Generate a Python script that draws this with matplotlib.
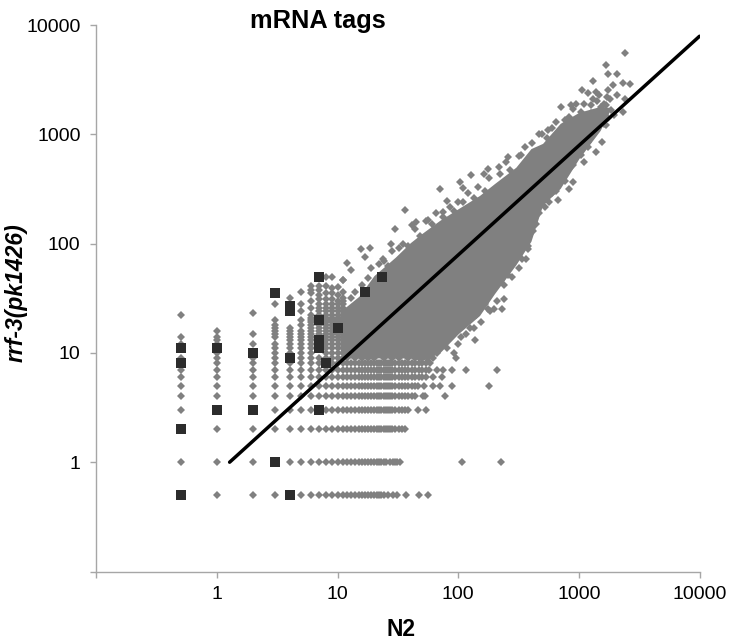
import matplotlib
matplotlib.use("Agg")
import matplotlib.pyplot as plt
from matplotlib.ticker import FixedLocator, FixedFormatter, NullLocator

plt.rcParams['font.family'] = ['Liberation Sans', 'DejaVu Sans']

title = "mRNA tags"
xlabel = "N2"
ylabel = "rrf-3(pk1426)"
tick_values = [0.1, 1, 10, 100, 1000, 10000]
tick_labels = ["", "1", "10", "100", "1000", "10000"]

# horizontal rows of low counts in rrf-3
row_levels = [0.5, 1, 2, 3, 4, 5, 6, 7, 8, 9, 10]
row_xs = [
    [1, 2, 3, 5, 6, 7, 8, 9, 10, 11, 12, 13, 14, 15, 16, 17, 18, 19, 20, 21, 22, 23, 24, 26, 29, 31, 37, 47, 56],
    [0.5, 1, 2, 4, 5, 6, 7, 8, 9, 10, 11, 12, 13, 14, 15, 16, 17, 18, 19, 20, 21, 22, 23, 24, 25, 27, 29, 30, 31, 33, 108, 226],
    [1, 2, 3, 4, 5, 6, 7, 8, 9, 10, 11, 12, 13, 14, 15, 16, 17, 18, 19, 20, 21, 22, 23, 24, 25, 26, 27, 28, 30, 32, 34, 36],
    [0.5, 3, 4, 5, 6, 8, 9, 10, 11, 12, 13, 14, 15, 16, 17, 18, 19, 20, 21, 22, 23, 24, 25, 26, 27, 28, 30, 32, 34, 36, 38, 46, 54],
    [0.5, 1, 2, 3, 4, 5, 6, 7, 8, 9, 10, 11, 12, 13, 14, 15, 16, 17, 18, 19, 20, 21, 22, 23, 24, 25, 26, 27, 28, 30, 32, 34, 36, 38, 41, 44, 51, 53, 78],
    [0.5, 1, 2, 3, 4, 5, 6, 7, 8, 9, 10, 11, 12, 13, 14, 15, 16, 17, 18, 19, 20, 21, 22, 23, 24, 25, 26, 27, 28, 30, 32, 34, 36, 38, 41, 44, 46, 52, 62, 70, 88, 178],
    [0.5, 1, 2, 3, 4, 5, 6, 7, 8, 9, 10, 11, 12, 13, 14, 15, 16, 17, 18, 19, 20, 21, 22, 23, 24, 25, 26, 27, 28, 30, 32, 34, 36, 38, 41, 44, 47, 50, 54, 62, 73],
    [0.5, 1, 2, 3, 4, 5, 6, 7, 8, 9, 10, 11, 12, 13, 14, 15, 16, 17, 18, 19, 20, 21, 22, 23, 24, 25, 26, 27, 28, 30, 32, 34, 36, 38, 41, 44, 47, 50, 54, 57, 67, 75, 88, 116, 208],
    [1, 2, 3, 4, 5, 6, 7, 9, 10, 11, 12, 13, 14, 15, 16, 17, 18, 19, 20, 21, 22, 23, 24, 25, 26, 27, 28, 30, 32, 34, 36, 38, 41, 44, 47, 50, 54, 58],
    [0.5, 1, 2, 3, 5, 6, 7, 8, 9, 10, 11, 12, 14, 16, 18, 20, 24, 28, 32, 38, 44, 50, 56, 62],
    [1, 3, 4, 5, 6, 8, 9, 10, 11, 12, 14, 16, 20, 30, 40, 50, 60, 66],
]

# vertical columns of low counts in N2
column_levels = [0.5, 1, 2, 3, 4, 5, 6, 7, 8, 9, 10, 11]
column_ys = [
    [12, 14, 22],
    [12, 13, 14, 16],
    [12, 15, 23],
    [11, 12, 14, 15, 16, 17, 18, 20, 28],
    [11, 12, 13, 14, 15, 16, 17, 32],
    [11, 12, 13, 14, 15, 16, 18, 20, 24, 28, 36],
    [11, 12, 13, 14, 15, 16, 17, 18, 19, 20, 21, 22, 26, 30, 35, 38, 41],
    [11, 14, 15, 16, 17, 18, 19, 21, 22, 24, 26, 28, 31, 34, 38, 41],
    [11, 12, 13, 14, 15, 16, 17, 18, 19, 20, 21, 22, 24, 26, 28, 31, 35, 41, 50],
    [11, 12, 13, 14, 15, 16, 17, 18, 19, 20, 21, 22, 24, 26, 28, 31, 35, 39, 50],
    [11, 12, 13, 14, 15, 16, 18, 19, 20, 21, 22, 24, 26, 28, 30, 34, 40],
    [11, 12, 13, 14, 15, 16, 17, 18, 19, 20, 21, 22, 24, 26, 28, 30, 32, 36, 46],
]

# edges of the solid cloud
cloud_x = [10.5, 12, 15, 20, 30, 40, 50, 70, 100, 150, 200, 300, 400, 500, 700, 1000, 1500, 1800]
cloud_upper = [24, 27, 33, 51, 75, 102, 124, 163, 209, 276, 355, 500, 740, 826, 1260, 1590, 1800, 1760]
cloud_lower = [10, 9, 9, 9, 9, 9, 8.5, 10, 15, 22, 35, 64, 105, 225, 320, 600, 1085, 1640]

# scattered points around the cloud
edge_x = [2393, 1663, 1754, 2080, 1315, 1914, 2316, 2630, 1052, 1754, 2055, 2410, 2316,
          1180, 1375, 1456, 1300, 1663, 1832, 1514, 1940, 1563, 1375, 1094, 1180, 1663,
          705, 853, 940, 1033, 1250, 1375, 491, 550, 405, 316, 256, 175, 162, 216,
          887, 822, 733, 665, 376, 36, 70, 128, 103, 109, 81, 100, 30, 41, 45,
          15.5, 18.4, 12, 27.5, 23.6, 17, 12.8, 11, 56, 74,
          232, 182, 196, 238, 224, 376, 361, 137, 99, 134, 115, 93, 95]
edge_y = [5540, 4276, 3540, 3590, 3050, 2805, 2942, 2905, 2523, 2523, 2270, 2085, 1585,
          2378, 2426, 2270, 2123, 1840, 1656, 1762, 1489, 848, 687, 556, 759, 1205,
          1762, 1840, 1879, 1585, 1552, 1400, 998, 1086, 826, 628, 615, 477, 430, 497,
          363, 313, 457, 248, 114, 201, 313, 421, 363, 326, 243, 238, 135, 147, 156,
          90, 92, 67, 100, 73, 75, 57, 46, 163, 193,
          25, 24, 25, 31, 46, 90, 73, 13, 12, 17, 15, 10, 9]

# points along the rough upper and lower borders of the cloud
upper_border_x = [13, 14, 16, 18, 19, 22, 24, 26, 28, 32, 35, 38, 44, 48, 54, 60, 65, 75, 85, 92, 110, 120,
                  135, 145, 165, 180, 220, 250, 270, 330, 360, 440, 470, 540, 600, 650, 760, 820, 900, 1100,
                  1250, 1400, 1600, 1700, 1800]
upper_border_y = [32, 36, 42, 48, 60, 65, 70, 62, 85, 92, 100, 95, 135, 118, 160, 150, 190, 175, 215, 200, 240, 290,
                  260, 330, 300, 400, 430, 560, 470, 640, 760, 680, 1000, 930, 1130, 1300, 1350, 1450, 1700, 1900,
                  1850, 2000, 1900, 2200, 2100]
lower_border_x = [70, 80, 85, 105, 110, 125, 140, 155, 165, 175, 210, 190, 240, 260, 280, 320, 340, 380, 420,
                  440, 470, 520, 560, 600, 640, 760, 820, 900, 1050, 1200, 1300, 1600, 1750]
lower_border_y = [12, 11, 14, 14, 19, 17, 22, 19, 28, 25, 30, 38, 42, 52, 50, 60, 72, 95, 130,
                  150, 190, 215, 240, 290, 300, 370, 480, 520, 640, 850, 1000, 1250, 1400]

# dark highlighted points
square_x = [0.5, 0.5, 0.5, 0.5, 1, 1, 2, 2, 3, 3, 4, 4, 4, 4, 7, 7, 7, 7, 7, 8, 10, 17, 23.4]
square_y = [11, 8, 2, 0.5, 11, 3, 10, 3, 35, 1, 27, 24, 9, 0.5, 49, 20, 13, 11, 3, 8, 17, 36, 49]

# trend line
line_x = [1.27, 10000]
line_y = [1, 7890]

W, H = 729, 642
fig = plt.figure(figsize=(W / 100, H / 100), dpi=100)
ax = fig.add_axes([96.5 / W, (H - 571.5) / H, 603 / W, 546.5 / H])
ax.set_xscale("log")
ax.set_yscale("log")
ax.set_xlim(0.1, 10000)
ax.set_ylim(0.1, 10000)

GRAY = "#808080"
diamond = dict(linestyle="none", marker="D", ms=4.1, mfc=GRAY, mec=GRAY, mew=0, zorder=2, clip_on=False)

ax.fill_between(cloud_x, cloud_lower, cloud_upper, color=GRAY, linewidth=0, zorder=1)
for level, xs in zip(row_levels, row_xs):
    ax.plot(xs, [level] * len(xs), **diamond)
for level, ys in zip(column_levels, column_ys):
    ax.plot([level] * len(ys), ys, **diamond)
ax.plot(edge_x, edge_y, **diamond)
ax.plot(upper_border_x, upper_border_y, **diamond)
ax.plot(lower_border_x, lower_border_y, **diamond)
ax.plot(square_x, square_y, linestyle="none", marker="s", ms=6.9, mfc="#2c2c2c", mec="#2c2c2c", mew=0, zorder=3)
ax.plot(line_x, line_y, color="black", lw=2.5, solid_capstyle="round", zorder=4)

for side in ("top", "right"):
    ax.spines[side].set_visible(False)
for side in ("left", "bottom"):
    ax.spines[side].set_color("#a6a6a6")
    ax.spines[side].set_linewidth(1.0)

for axis in (ax.xaxis, ax.yaxis):
    axis.set_major_locator(FixedLocator(tick_values))
    axis.set_major_formatter(FixedFormatter(tick_labels))
    axis.set_minor_locator(NullLocator())
ax.tick_params(axis="both", which="major", length=4.5, width=1.0, color="#a6a6a6", labelsize=14, labelcolor="black")
ax.tick_params(axis="x", pad=6)
ax.tick_params(axis="y", pad=7)

fig.text(318 / W, 1 - 21 / H, title, ha="center", va="center", fontsize=18.3, fontweight="bold")
fig.text(401 / W, 1 - 629 / H, xlabel, ha="center", va="center", fontsize=16.5, fontweight="bold")
fig.text(16 / W, 1 - 293 / H, ylabel, ha="center", va="center", rotation=90, fontsize=16.5, fontweight="bold", fontstyle="italic")

fig.savefig("out.png", dpi=100)
